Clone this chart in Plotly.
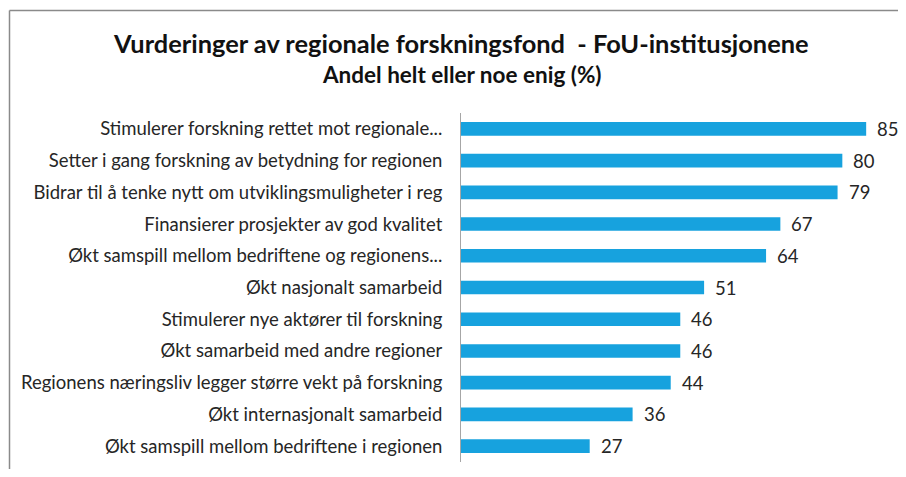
import plotly.graph_objects as go

categories = [
    "Stimulerer forskning rettet mot regionale...",
    "Setter i gang forskning av betydning for regionen",
    "Bidrar til å tenke nytt om utviklingsmuligheter i reg",
    "Finansierer prosjekter av god kvalitet",
    "Økt samspill mellom bedriftene og regionens...",
    "Økt nasjonalt samarbeid",
    "Stimulerer nye aktører til forskning",
    "Økt samarbeid med andre regioner",
    "Regionens næringsliv legger større vekt på forskning",
    "Økt internasjonalt samarbeid",
    "Økt samspill mellom bedriftene i regionen",
]
values = [85, 80, 79, 67, 64, 51, 46, 46, 44, 36, 27]

title_text = "Vurderinger av regionale forskningsfond  - FoU-institusjonene"
subtitle_text = "Andel helt eller noe enig (%)"

# page is rendered with the default 8px body margin; keep the figure inside
# the visible area (8..898 horizontally, 8..469 vertically)
OFF = 8
W, H = 906 - 2 * OFF, 477 - 2 * OFF
ml, mt = 461 - OFF, 113 - OFF
mr = W - (890 - OFF)
mb = H - (462 - OFF)
pw, ph = W - ml - mr, H - mt - mb

def px_x(p):
    return (p - OFF - ml) / pw

def px_y(p):
    return (H - mb - (p - OFF)) / ph

FONT = "Lato"
TXT = "#262626"
FS = 18.5

fig = go.Figure(go.Bar(
    x=values, y=categories, orientation="h",
    marker=dict(color="#17A2DE", line=dict(width=0)),
    hoverinfo="skip",
))

annotations = []
for c, v in zip(categories, values):
    annotations.append(dict(x=v, y=c, xref="x", yref="y", text=str(v),
                            showarrow=False, xanchor="left", yanchor="middle",
                            xshift=9, font=dict(family=FONT, size=FS, color=TXT)))
annotations.append(dict(x=px_x(460.5), y=px_y(43), xref="paper", yref="paper",
                        text="<b>" + title_text + "</b>", showarrow=False,
                        xanchor="center", yanchor="middle",
                        font=dict(family=FONT, size=25.4, color="#111111")))
annotations.append(dict(x=px_x(461.5), y=px_y(74), xref="paper", yref="paper",
                        text="<b>" + subtitle_text + "</b>", showarrow=False,
                        xanchor="center", yanchor="middle",
                        font=dict(family=FONT, size=22.5, color="#111111")))

shapes = [
    dict(type="line", xref="paper", yref="paper", x0=px_x(9.5), x1=px_x(9.5),
         y0=px_y(480), y1=px_y(10.5), line=dict(color="#8a8a8a", width=1.5)),
    dict(type="line", xref="paper", yref="paper", x0=px_x(9.5), x1=px_x(910),
         y0=px_y(10.5), y1=px_y(10.5), line=dict(color="#8a8a8a", width=1.5)),
]

fig.update_layout(
    width=W, height=H,
    margin=dict(l=ml, r=mr, t=mt, b=mb, pad=0, autoexpand=False),
    paper_bgcolor="white", plot_bgcolor="white",
    bargap=0.57,
    showlegend=False,
    annotations=annotations,
    shapes=shapes,
    xaxis=dict(range=[0, 90], visible=False, fixedrange=True, automargin=False),
    yaxis=dict(autorange="reversed", showline=True, linecolor="#a6a6a6", linewidth=1,
               ticks="", showgrid=False, zeroline=False, automargin=False,
               ticklabelstandoff=14,
               tickfont=dict(family=FONT, size=FS, color=TXT), fixedrange=True),
)

fig.write_html("out.html")
